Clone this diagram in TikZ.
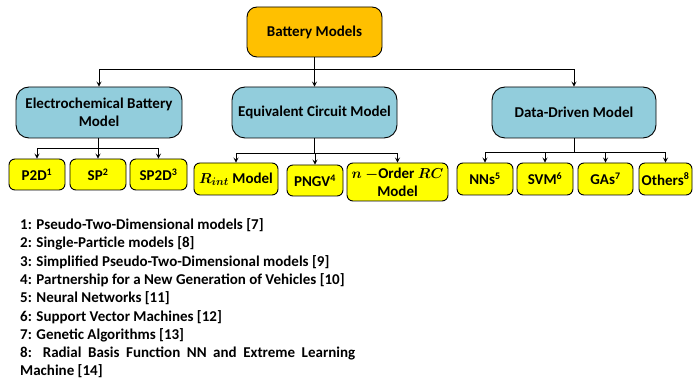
\documentclass[tikz,border=0pt]{standalone}
\usepackage{fontspec}
\setmainfont{Carlito}
\usetikzlibrary{arrows.meta}

\definecolor{rootorange}{HTML}{FFC000}
\definecolor{catblue}{HTML}{92CDDC}
\definecolor{leafyellow}{HTML}{FFFF00}

\newcommand{\boxfont}{\fontsize{15}{18.3}\selectfont\bfseries}
\newcommand{\sups}[1]{\textsuperscript{\fontsize{10}{10}\selectfont #1}}

\tikzset{
  boxbase/.style={draw=black, line width=0.9pt, font=\boxfont, align=center, inner sep=0pt},
  rootbox/.style={boxbase, fill=rootorange, rounded corners=10pt},
  catbox/.style={boxbase, fill=catblue, rounded corners=13pt},
  leafbox/.style={boxbase, fill=leafyellow, rounded corners=6pt},
  mathleaf/.style={leafbox, font=\boxfont\boldmath},
  link/.style={line width=0.8pt, -{Stealth[length=5pt, width=5pt, inset=2pt]}},
  trunk/.style={line width=0.8pt},
  legend/.style={anchor=base west, inner sep=0pt, font=\boxfont}
}

\begin{document}
\begin{tikzpicture}[x=1pt, y=-1pt]
  \useasboundingbox (0,0) rectangle (693,379);

  % root
  \node[rootbox, minimum width=135pt, minimum height=50pt] (root) at (314.5,32) {Battery Models};

  % model families
  \node[catbox, minimum width=166pt, minimum height=51pt] (electro) at (99,112.5) {Electrochemical Battery\\Model};
  \node[catbox, minimum width=165pt, minimum height=51pt] (equiv) at (314.5,112.5) {Equivalent Circuit Model};
  \node[catbox, minimum width=164pt, minimum height=51pt] (data) at (574,112.5) {Data-Driven Model};

  % electrochemical models
  \node[leafbox, minimum width=56pt, minimum height=31pt] (p2d) at (37,174.5) {P2D\sups{1}};
  \node[leafbox, minimum width=56pt, minimum height=31pt] (sp) at (98,174.5) {SP\sups{2}};
  \node[leafbox, minimum width=57pt, minimum height=31pt] (sp2d) at (158.5,174.5) {SP2D\sups{3}};

  % equivalent circuit models
  \node[mathleaf, minimum width=84pt, minimum height=32pt] (rint) at (236,179) {$R_{int}$ Model};
  \node[leafbox, minimum width=56pt, minimum height=31pt] (pngv) at (315,180.5) {PNGV\sups{4}};
  \node[mathleaf, minimum width=101pt, minimum height=38pt] (norder) at (397.5,182) {$n$ $-$Order $RC$\\Model};

  % data-driven models
  \node[leafbox, minimum width=56pt, minimum height=32pt] (nns) at (485,179) {NNs\sups{5}};
  \node[leafbox, minimum width=56pt, minimum height=32pt] (svm) at (545,179) {SVM\sups{6}};
  \node[leafbox, minimum width=55pt, minimum height=32pt] (gas) at (605.5,179) {GAs\sups{7}};
  \node[leafbox, minimum width=53pt, minimum height=32pt] (others) at (665.5,179) {Others\sups{8}};

  % branch points
  \coordinate (j0) at (314.5,69);
  \coordinate (j1) at (98,148);
  \coordinate (j2) at (314.5,153);
  \coordinate (j3) at (574,152);

  % connectors
  \draw[trunk] (root.south) -- (j0);
  \draw[link] (j0) -| (electro.north);
  \draw[link] (j0) -- (equiv.north);
  \draw[link] (j0) -| (data.north);

  \draw[trunk] (electro.south -| j1) -- (j1);
  \draw[link] (j1) -| (p2d.north);
  \draw[link] (j1) -- (sp.north);
  \draw[link] (j1) -| (sp2d.north);

  \draw[trunk] (equiv.south) -- (j2);
  \draw[link] (j2) -| (rint.north);
  \draw[link] (j2) -| (pngv.north);
  \draw[link] (j2) -| (norder.north);

  \draw[trunk] (data.south) -- (j3);
  \draw[link] (j3) -| (nns.north);
  \draw[link] (j3) -| (svm.north);
  \draw[link] (j3) -| (gas.north);
  \draw[link] (j3) -| (others.north);

  % footnotes
  \node[legend] (l1) at (20,229.5) {1: Pseudo-Two-Dimensional models [7]};
  \node[legend] (l2) at (20,247.8) {2: Single-Particle models [8]};
  \node[legend] (l3) at (20,266.1) {3: Simplified Pseudo-Two-Dimensional models [9]};
  \node[legend] (l4) at (20,284.4) {4: Partnership for a New Generation of Vehicles [10]};
  \node[legend] (l5) at (20,302.7) {5: Neural Networks [11]};
  \node[legend] (l6) at (20,321.0) {6: Support Vector Machines [12]};
  \node[legend] (l7) at (20,339.3) {7: Genetic Algorithms [13]};
  \node[legend] (l8) at (20,357.6) {\makebox[335pt][s]{8: Radial Basis Function NN and Extreme Learning}};
  \node[legend] (l9) at (20,375.9) {Machine [14]};
\end{tikzpicture}
\end{document}
